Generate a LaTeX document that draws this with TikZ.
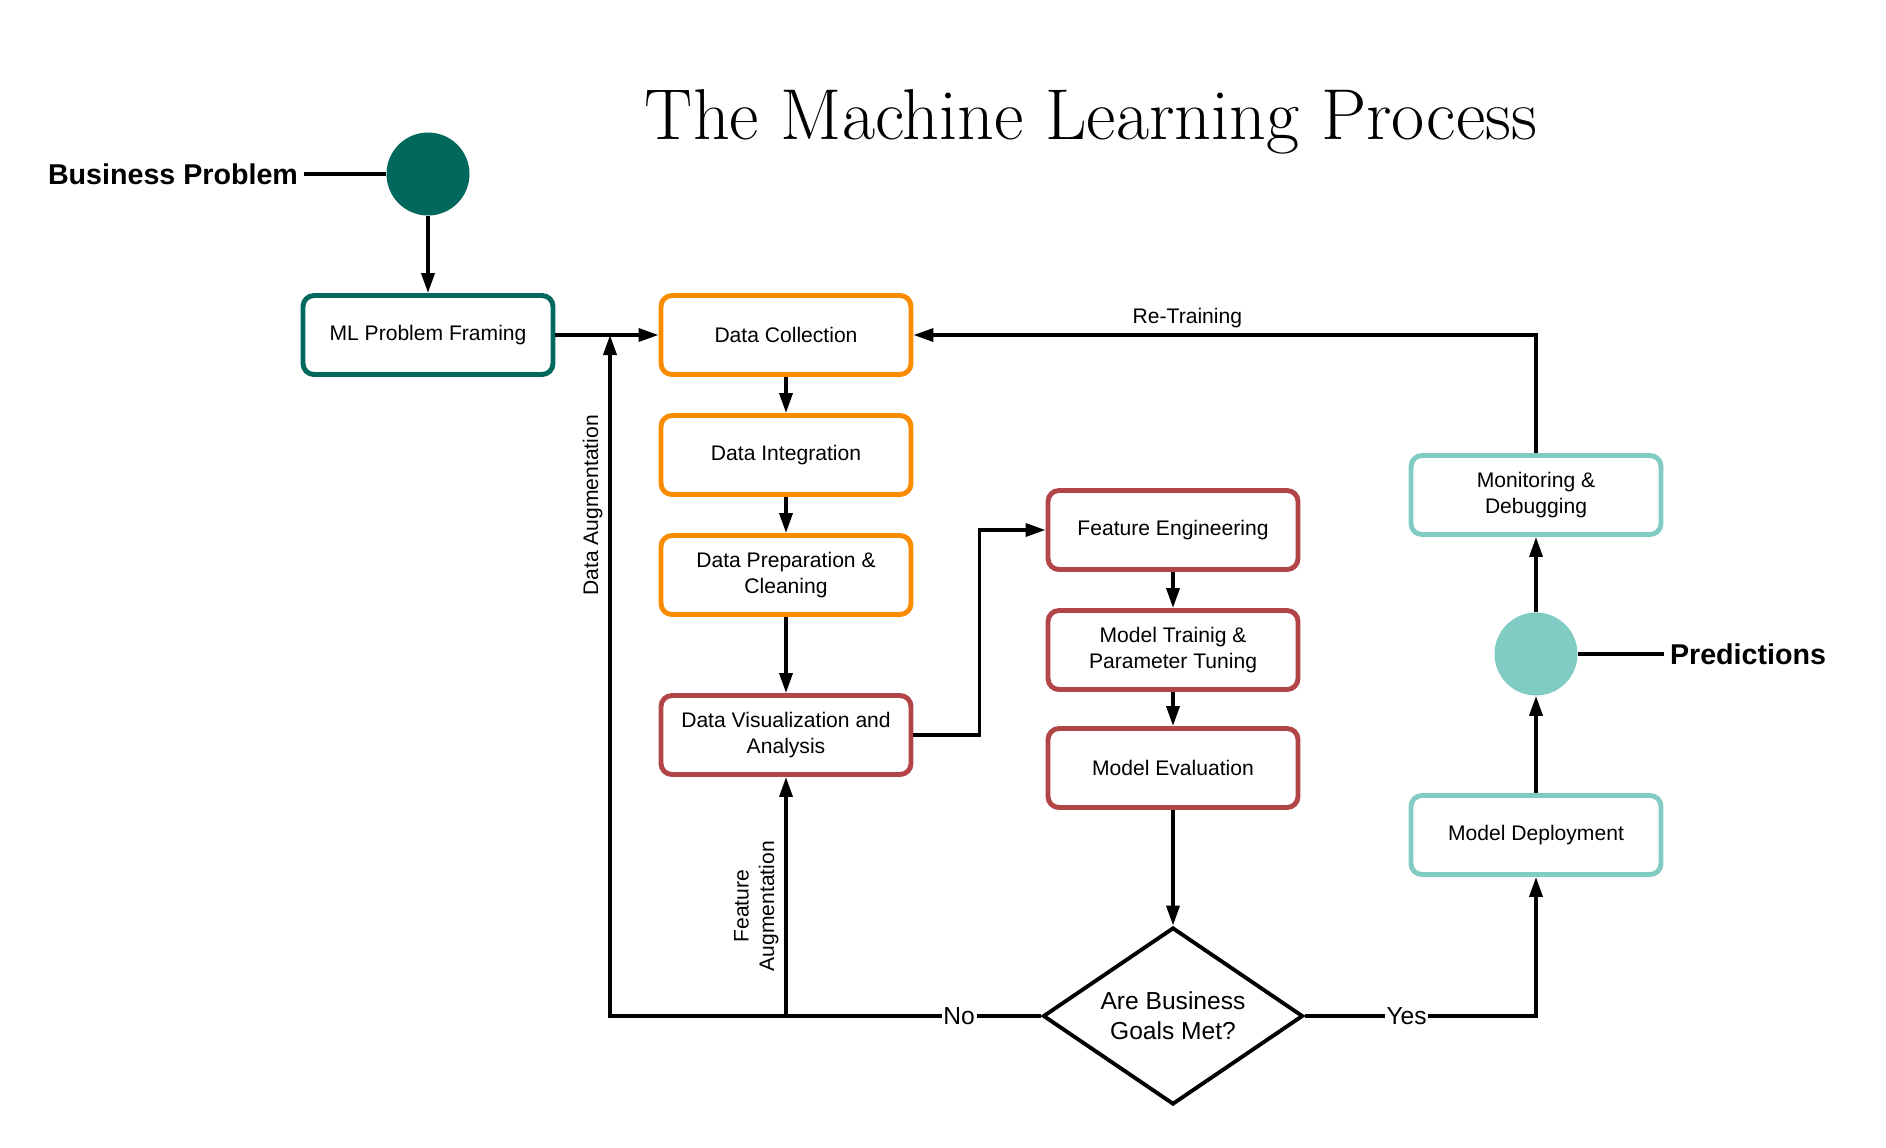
\documentclass[tikz,border=0pt]{standalone}
\usepackage{fontspec}
\newfontfamily\boxfont{Liberation Sans}
\usetikzlibrary{arrows.meta,shapes.geometric,positioning}

\definecolor{mlgreen}{HTML}{00695C}
\definecolor{mlorange}{HTML}{FB8C00}
\definecolor{mlred}{HTML}{B24548}
\definecolor{mlteal}{HTML}{80CBC4}

\begin{document}
\begin{tikzpicture}[
        stage/.style={
            draw,
            line width=2.8pt,
            rounded corners=0.22cm,
            minimum width=5.0cm,
            minimum height=1.58cm,
            align=center,
            fill=white,
            font=\boxfont\fontsize{12}{14.5}\selectfont
        },
        decision/.style={
            draw,
            shape=diamond,
            aspect=1.47,
            line width=2.2pt,
            minimum width=5.2cm,
            minimum height=3.54cm,
            inner sep=0pt,
            align=center,
            font=\boxfont\fontsize{14}{17}\selectfont
        },
        dot/.style={circle, minimum size=1.66cm, inner sep=0pt},
        headline/.style={font=\boxfont\bfseries\fontsize{16.3}{19}\selectfont},
        tag/.style={fill=white, inner sep=1pt, font=\boxfont\fontsize{14}{17}\selectfont},
        side/.style={font=\boxfont\fontsize{12}{14.5}\selectfont},
        line/.style={line width=2pt},
        arrow/.style={-{Triangle[length=0.4cm,width=0.26cm]}, line width=2pt}
    ]

    \useasboundingbox (0,0) rectangle (37.72,-22.94);

    \node[font=\fontsize{41}{44}\selectfont] (title) at (21.82,-2.44) {The Machine Learning Process};

    \node[dot, fill=mlgreen] (business) at (8.56,-3.48) {};
    \node[headline] (bizlabel) at (3.46,-3.48) {Business Problem};

    \node[stage, draw=mlgreen] (mlframe) at (8.56,-6.70) {ML Problem Framing};
    \node[stage, draw=mlorange] (datacoll) at (15.72,-6.70) {Data Collection};
    \node[stage, draw=mlorange] (dataint) at (15.72,-9.10) {Data Integration};
    \node[stage, draw=mlorange] (dataprep) at (15.72,-11.50) {Data Preparation \&\\Cleaning};
    \node[stage, draw=mlred] (datavis) at (15.72,-14.70) {Data Visualization and\\Analysis};
    \node[stage, draw=mlred] (feateng) at (23.46,-10.60) {Feature Engineering};
    \node[stage, draw=mlred] (modtrain) at (23.46,-13.00) {Model Trainig \&\\Parameter Tuning};
    \node[stage, draw=mlred] (modeval) at (23.46,-15.36) {Model Evaluation};
    \node[decision] (goals) at (23.46,-20.32) {Are Business\\Goals Met?};
    \node[stage, draw=mlteal] (monitor) at (30.72,-9.90) {Monitoring \&\\Debugging};
    \node[dot, fill=mlteal] (predict) at (30.72,-13.08) {};
    \node[headline] (predlabel) at (34.96,-13.08) {Predictions};
    \node[stage, draw=mlteal] (deploy) at (30.72,-16.70) {Model Deployment};

    \coordinate (augcorner) at (12.2,-20.32);
    \coordinate (augjoin) at (12.2,-6.70);

    \draw[line] (bizlabel.east) -- (business.west);
    \draw[line] (predict.east) -- (predlabel.west);
    \draw[arrow] (business) -- (mlframe);
    \draw[arrow] (mlframe) -- (datacoll);
    \draw[arrow] (datacoll) -- (dataint);
    \draw[arrow] (dataint) -- (dataprep);
    \draw[arrow] (dataprep) -- (datavis);
    \draw[arrow] (datavis.east) -- ++(1.32,0) |- (feateng.west);
    \draw[arrow] (feateng) -- (modtrain);
    \draw[arrow] (modtrain) -- (modeval);
    \draw[arrow] (modeval) -- (goals);
    \draw[arrow] (goals.east) -| node[pos=0.22, tag] {Yes} (deploy.south);
    \draw[arrow] (deploy) -- (predict);
    \draw[arrow] (predict) -- (monitor);
    \draw[arrow] (monitor.north) |- node[pos=0.78, above, side] {Re-Training} (datacoll.east);

    % loops back when the goals are not met
    \draw[arrow] (goals.west) -- node[pos=0.19, tag] {No} (augcorner)
        -- node[sloped, above, pos=0.75, side] {Data Augmentation} (augjoin);
    \draw[arrow] (datavis.south |- augcorner) -- node[sloped, above, pos=0.46, side, align=center] {Feature\\Augmentation} (datavis.south);

\end{tikzpicture}
\end{document}
